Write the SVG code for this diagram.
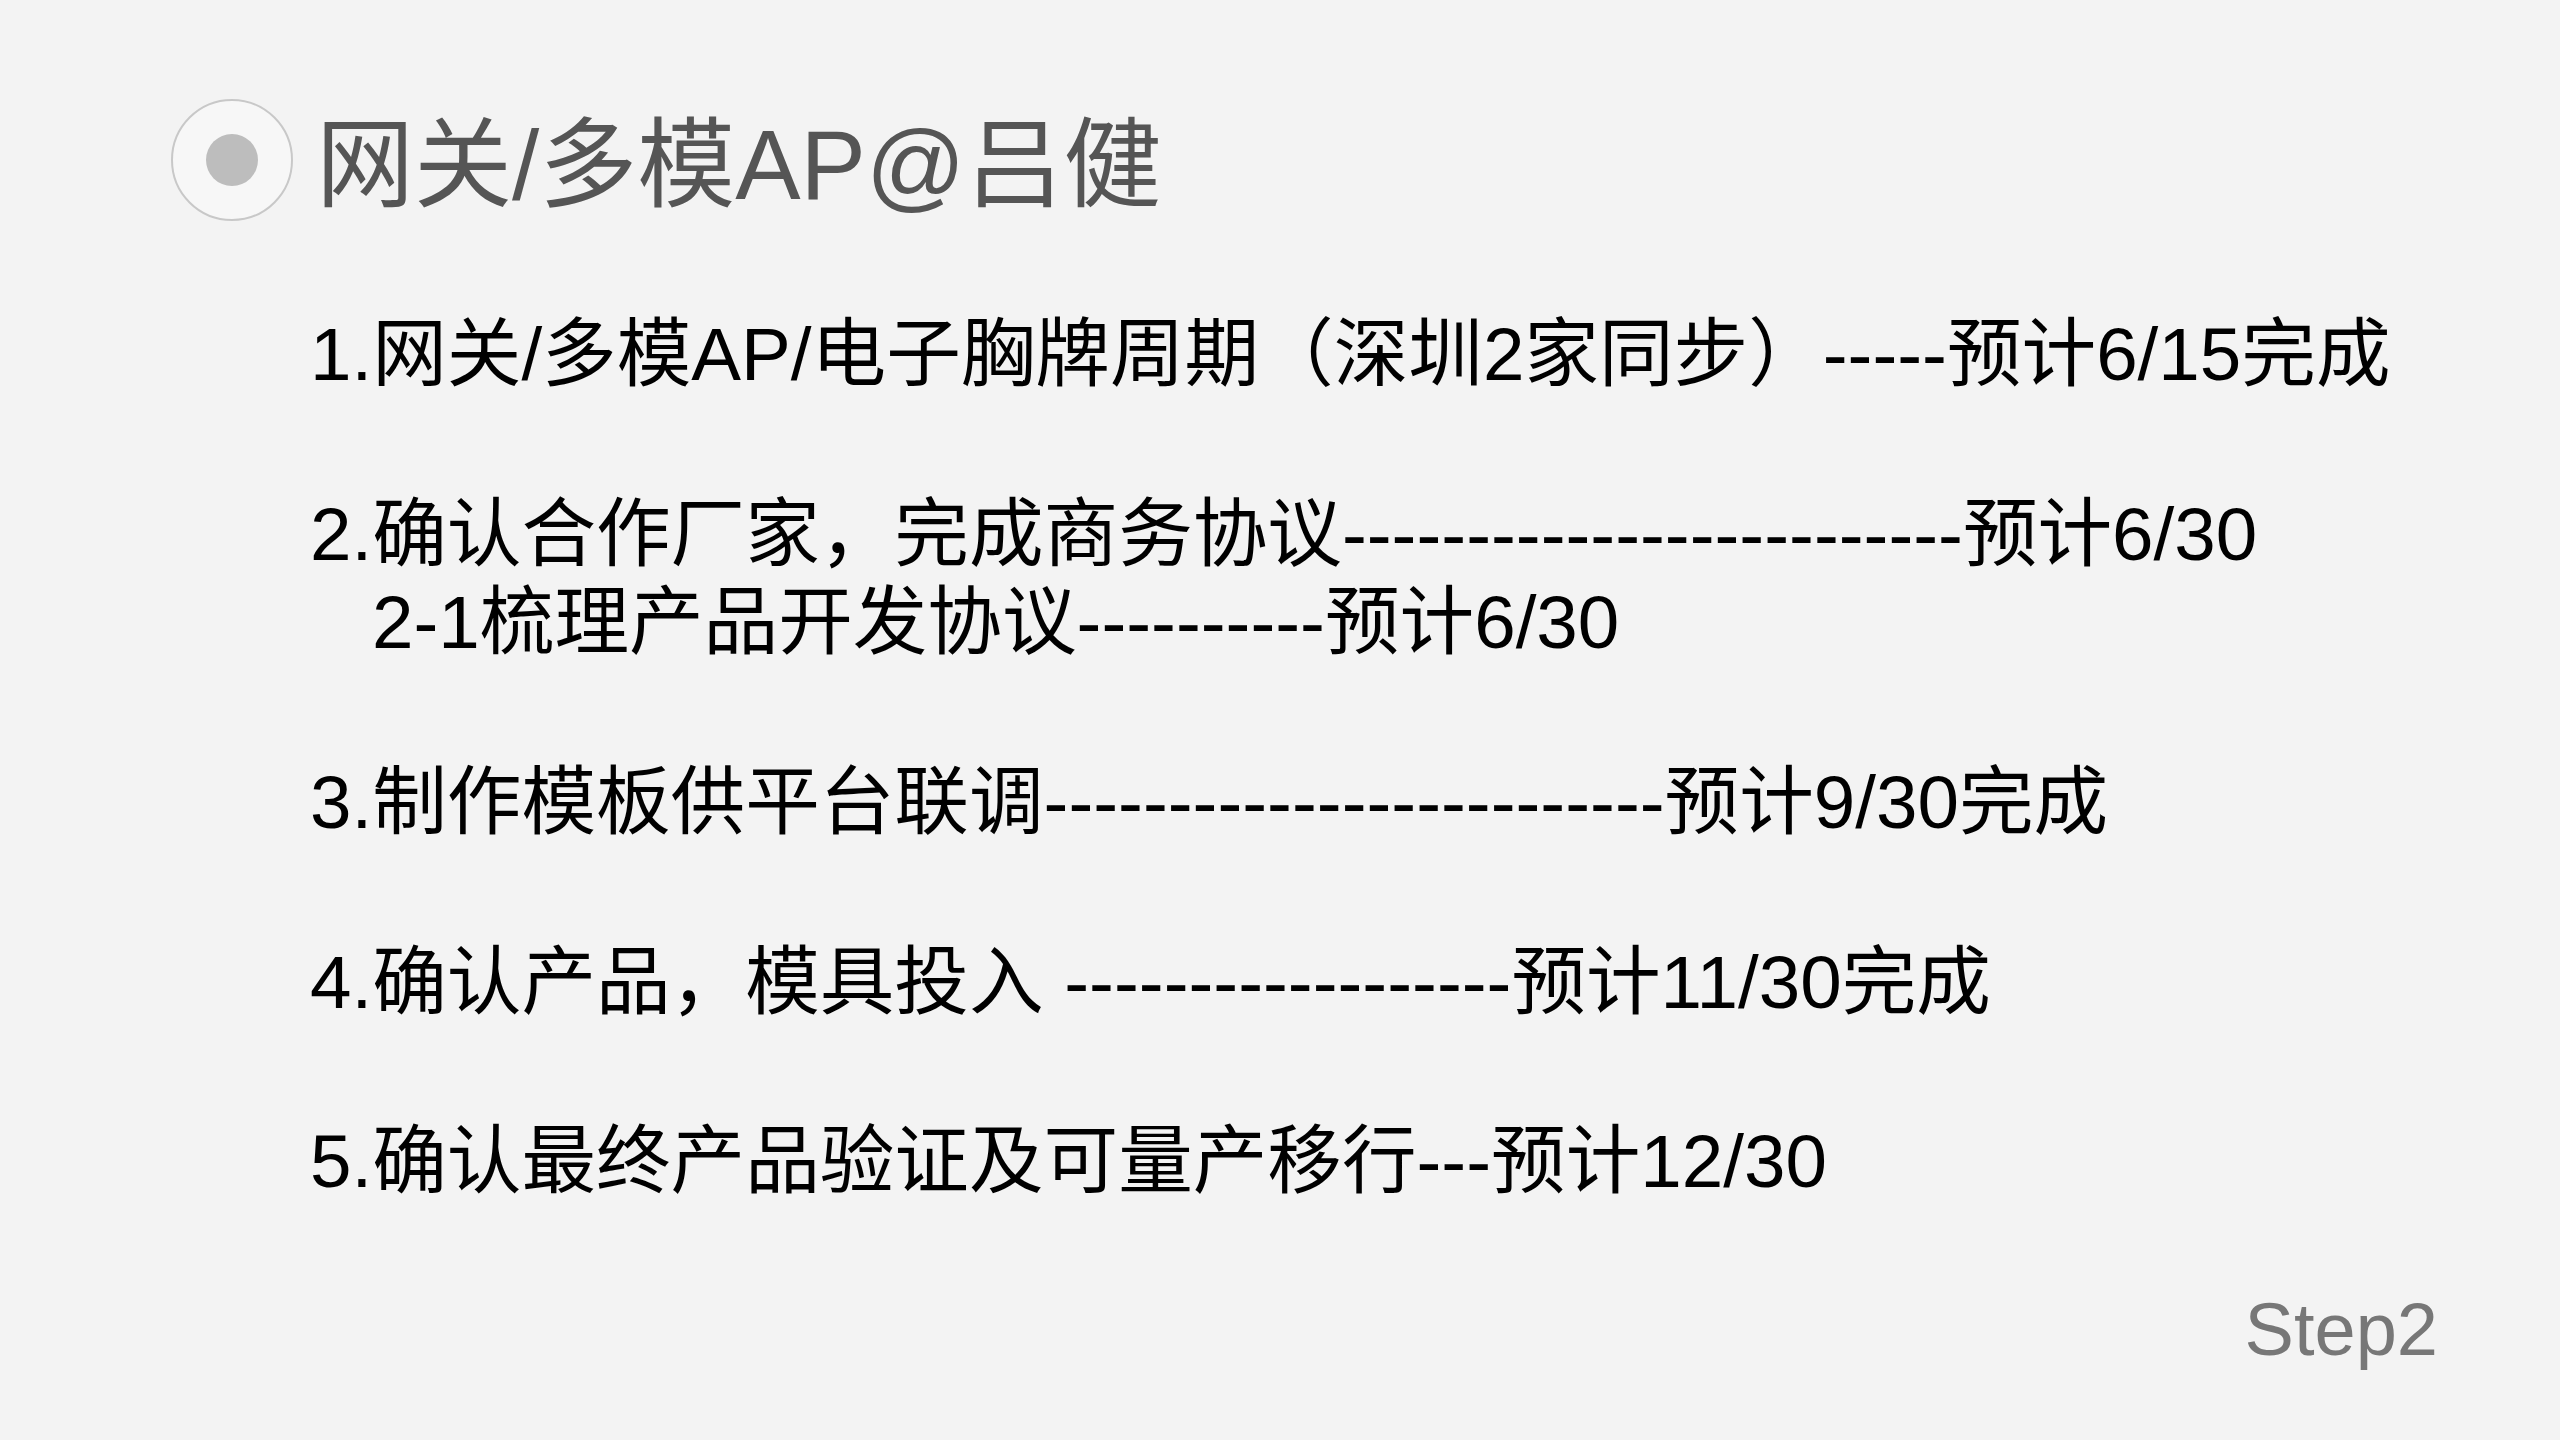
<svg xmlns="http://www.w3.org/2000/svg" width="2560" height="1440" viewBox="0 0 2560 1440">
<style>
text{font-family:"Liberation Sans","Noto Sans CJK SC",sans-serif;}
.b{font-size:74.6px;fill:#000;}
</style>
<rect width="2560" height="1440" fill="#f3f3f3"/>
<g id="title">
<circle cx="232" cy="160" r="60" fill="#f7f7f7" stroke="#c8c8c8" stroke-width="2"/>
<circle cx="232" cy="160" r="26" fill="#bdbdbd"/>
<text x="316" y="199" font-size="98" fill="#555">网关/多模AP@吕健</text>
</g>
<g id="items">
<text class="b" x="310" y="380">1.网关/多模AP/电子胸牌周期（深圳2家同步）-----预计6/15完成</text>
<text class="b" x="310" y="560">2.确认合作厂家，完成商务协议-------------------------预计6/30</text>
<text class="b" x="372" y="648">2-1梳理产品开发协议----------预计6/30</text>
<text class="b" x="310" y="828">3.制作模板供平台联调-------------------------预计9/30完成</text>
<text class="b" x="310" y="1008">4.确认产品，模具投入 ------------------预计11/30完成</text>
<text class="b" x="310" y="1187">5.确认最终产品验证及可量产移行---预计12/30</text>
</g>
<g id="footer">
<text x="2438" y="1355" font-size="74" fill="#777" text-anchor="end">Step2</text>
</g>
</svg>
